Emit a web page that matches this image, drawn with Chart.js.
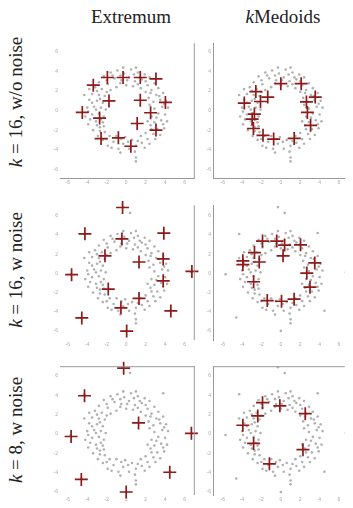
<!DOCTYPE html>
<html>
<head>
<meta charset="utf-8">
<script src="https://cdn.jsdelivr.net/npm/chart.js@4/dist/chart.umd.min.js"></script>
<style>
  body { margin: 0; width: 353px; height: 508px; background: #fff; position: relative; overflow: hidden; color: #222; }
  .serif { font-family: "Liberation Serif", "Times New Roman", Tinos, "DejaVu Serif", "Noto Serif", serif; }
  .panel { position: absolute; }
  .title { position: absolute; top: 6px; font-size: 19px; transform: translateX(-50%); white-space: nowrap; }
  .row { position: absolute; font-size: 19px; white-space: nowrap; transform: translate(-50%, -50%) rotate(-90deg); }
</style>
</head>
<body>
<div class="title serif" style="left:131px">Extremum</div>
<div class="title serif" style="left:283px"><i>k</i>Medoids</div>
<div class="row serif" style="left:16px;top:102px"><i>k</i> = 16, w/o noise</div>
<div class="row serif" style="left:16px;top:270px"><i>k</i> = 16, w noise</div>
<div class="row serif" style="left:16px;top:430px"><i>k</i> = 8, w noise</div>

<canvas class="panel" id="c11" width="153" height="155" style="left:50px;top:35px"></canvas>
<canvas class="panel" id="c12" width="150" height="155" style="left:203px;top:35px"></canvas>
<canvas class="panel" id="c21" width="153" height="155" style="left:50px;top:197px"></canvas>
<canvas class="panel" id="c22" width="150" height="155" style="left:203px;top:197px"></canvas>
<canvas class="panel" id="c31" width="153" height="149" style="left:50px;top:358px"></canvas>
<canvas class="panel" id="c32" width="150" height="149" style="left:203px;top:358px"></canvas>

<script>
// tick labels shared by every panel
const tickValues = [-6, -4, -2, 0, 2, 4, 6];

// the ring of data points
const ringPoints = [
  [-1.6,3.9],[-0.9,4.1],[-0.2,3.8],[0.5,4.2],[1.2,3.9],[1.9,3.7],[-1.2,3.3],[-0.5,3.1],[0.3,3.4],[0.9,3.0],
  [1.6,3.2],[2.4,3.4],[-2.3,3.5],[-2.8,2.9],[-1.9,2.7],[0.0,2.6],[0.7,2.5],[-1.0,2.4],[2.2,2.6],[2.9,2.8],
  [3.3,2.3],[-3.2,2.4],[-2.5,2.2],[1.5,2.3],[-0.3,4.4],[1.0,4.4],
  [3.8,1.8],[3.1,1.6],[2.5,1.8],[4.1,1.0],[3.5,1.1],[2.8,0.9],[4.3,0.3],[3.7,0.4],[2.9,0.2],[2.4,0.6],
  [4.0,-0.4],[3.3,-0.3],[2.6,-0.6],[4.2,-1.1],[3.6,-1.0],[2.9,-1.2],[3.9,-1.8],[3.2,-1.9],[2.5,-1.5],
  [3.5,-2.5],[2.8,-2.4],
  [2.2,-2.9],[1.6,-3.3],[2.4,-3.4],[1.0,-3.6],[1.5,-2.6],[0.6,-3.0],[0.3,-3.9],[-0.3,-3.4],[-0.8,-3.9],
  [-0.1,-2.7],[-1.3,-3.2],[-1.9,-3.6],[-1.7,-2.6],[-2.4,-3.0],[-0.6,-4.3],[0.9,-4.2],[1.0,-4.8],[1.0,-5.2],
  [-2.9,-2.6],[-2.2,-2.2],
  [-3.4,-2.0],[-2.7,-1.7],[-3.9,-1.4],[-3.1,-1.1],[-2.4,-1.2],[-4.2,-0.6],[-3.5,-0.4],[-2.8,-0.3],
  [-2.3,-0.6],[-4.0,0.3],[-3.3,0.4],[-2.6,0.3],[-2.1,0.1],[-3.8,1.1],[-3.0,1.0],[-2.4,0.8],[-4.3,1.6],
  [-3.5,1.7],[-2.8,1.6],[-2.2,1.5],
  [-1.4,3.6],[-0.6,3.6],[0.1,3.1],[0.8,3.7],[1.4,3.4],[2.0,3.0],[2.6,2.1],[-1.6,2.1],[-0.6,2.8],[1.2,2.7],
  [-2.0,3.1],[3.4,1.5],[3.9,0.7],[3.1,-0.7],[3.8,-1.4],[2.6,-1.9],[3.0,-2.9],[2.0,-2.3],[1.9,-3.8],[1.2,-3.1],
  [0.2,-3.2],[-0.5,-2.9],[-1.0,-2.6],[-1.5,-3.8],[-2.0,-2.9],[-2.7,-2.1],[-3.0,-1.5],[-3.7,-0.9],[-2.6,-0.9],
  [-3.9,-0.1],[-3.1,0.1],[-3.5,0.8],[-2.7,1.2],[-3.0,2.0],[-2.0,1.9],[-3.8,2.2],[2.0,1.9],[2.3,1.3],
  [-2.3,-1.6],[2.2,-1.1]
];

// extra outliers added in the "w noise" rows
const noisePoints = [
  [-0.3,6.9],[0.4,6.3],[-4.3,4.1],[3.8,4.2],[-5.7,-0.1],[6.7,0.1],[4.5,-3.9],[-4.6,-4.6],[0.0,-6.0]
];

// chosen centres per panel
const extremum16 = [
  [-3.38,2.6],[-1.93,3.39],[-0.32,3.39],[1.45,3.39],[3.06,3.24],[-1.77,0.99],[1.45,1.06],[4.03,0.84],
  [-4.51,-0.19],[-2.73,-0.77],[2.51,-0.22],[1.13,-1.32],[3.06,-1.99],[-2.58,-2.86],[-0.8,-2.79],[0.48,-3.65]
];
const medoids16 = [
  [0,2.76],[2.1,2.76],[-2.58,1.95],[-1.35,1.38],[3.55,1.38],[-3.77,0.77],[-2.1,0.93],[2.64,0.89],
  [2.74,-0.19],[-2.73,-0.36],[-2.96,-0.87],[3.07,-1.51],[-2.83,-1.83],[-1.84,-2.53],[-0.74,-2.91],[1.38,-2.85]
];
const extremum16Noise = [
  [-0.37,6.86],[-4.24,4.12],[3.87,4.18],[-0.44,3.59],[-2.18,1.82],[1.32,1.18],[3.8,1.5],[-5.61,-0.14],
  [6.75,0.2],[-1.84,-1.64],[3.8,-0.78],[1.32,-2.62],[-0.54,-3.6],[4.59,-3.92],[-4.56,-4.65],[0.05,-6.02]
];
const medoids16Noise = [
  [-1.89,3.36],[-0.42,3.36],[0.39,2.94],[2.03,2.97],[-2.72,2.16],[0.23,1.82],[-3.92,1.3],[-3.92,0.91],
  [-2.23,1.18],[3.5,1.08],[2.68,0.03],[-2.81,-0.88],[3.01,-1.44],[-1.4,-2.84],[0.07,-2.91],[1.37,-2.69]
];
const extremum8Noise = [
  [-0.26,6.8],[-4.28,3.95],[1.27,1.14],[-5.66,-0.26],[6.7,0.07],[4.48,-3.95],[-4.61,-4.69],[0,-5.99]
];
const medoids8Noise = [
  [-1.89,3.23],[-0.1,2.91],[-2.38,1.87],[2.52,2.1],[-3.92,0.9],[-2.81,-0.97],[2.28,-1.62],[-1.18,-3.08]
];

const toXY = arr => arr.map(([x, y]) => ({ x, y }));

// extra edge lines (top / right) that the scales themselves don't draw
const framePlugin = {
  id: 'frame',
  afterDraw(chart) {
    const edges = chart.config.options.edges || {};
    const { ctx, chartArea: a } = chart;
    ctx.save();
    ctx.strokeStyle = '#999';
    ctx.lineWidth = 1;
    ctx.beginPath();
    if (edges.top) { ctx.moveTo(a.left, a.top + 0.5); ctx.lineTo(a.right, a.top + 0.5); }
    if (edges.right) { ctx.moveTo(a.right - 0.5, a.top); ctx.lineTo(a.right - 0.5, a.bottom); }
    ctx.stroke();
    ctx.restore();
  }
};

function makePanel(id, points, centres, xr, yr, edges) {
  new Chart(document.getElementById(id), {
    type: 'scatter',
    data: {
      datasets: [
        {
          data: toXY(centres),
          pointStyle: 'cross',
          pointRadius: 6.5,
          borderColor: '#8e1a1a',
          borderWidth: 1.7,
          clip: false
        },
        {
          data: toXY(points),
          pointRadius: 1.3,
          backgroundColor: '#b0b2b0',
          borderWidth: 0
        }
      ]
    },
    plugins: [framePlugin],
    options: {
      responsive: false,
      animation: false,
      events: [],
      edges: edges,
      layout: { padding: 0 },
      plugins: {
        legend: { display: false },
        tooltip: { enabled: false }
      },
      scales: {
        x: {
          type: 'linear', min: xr[0], max: xr[1],
          afterBuildTicks: s => { s.ticks = tickValues.map(v => ({ value: v })); },
          afterFit: s => { s.height = 12; },
          ticks: { font: { size: 5 }, color: '#aaa', padding: 2, maxRotation: 0, autoSkip: false },
          grid: { display: false, drawTicks: false },
          border: { display: !!edges.bottom, color: '#999' }
        },
        y: {
          type: 'linear', min: yr[0], max: yr[1],
          afterBuildTicks: s => { s.ticks = tickValues.map(v => ({ value: v })); },
          afterFit: s => { s.width = 10; },
          ticks: { font: { size: 5 }, color: '#aaa', padding: 2, autoSkip: false },
          grid: { display: false, drawTicks: false },
          border: { display: !!edges.left, color: '#999' }
        }
      }
    }
  });
}

const leftX = [-6.8, 7.05], rightX = [-7.0, 6.6];
const withNoise = ringPoints.concat(noisePoints);

makePanel('c11', ringPoints, extremum16, leftX, [-6.9, 6.9], { bottom: true, right: true });
makePanel('c12', ringPoints, medoids16, rightX, [-6.9, 6.9], { bottom: true, left: true });
makePanel('c21', withNoise, extremum16Noise, leftX, [-6.95, 7.1], { right: true });
makePanel('c22', withNoise, medoids16Noise, rightX, [-6.95, 7.1], { left: true });
makePanel('c31', withNoise, extremum8Noise, leftX, [-6.3, 7.0], { top: true, right: true });
makePanel('c32', withNoise, medoids8Noise, rightX, [-6.3, 7.0], { top: true, left: true });
</script>
</body>
</html>
